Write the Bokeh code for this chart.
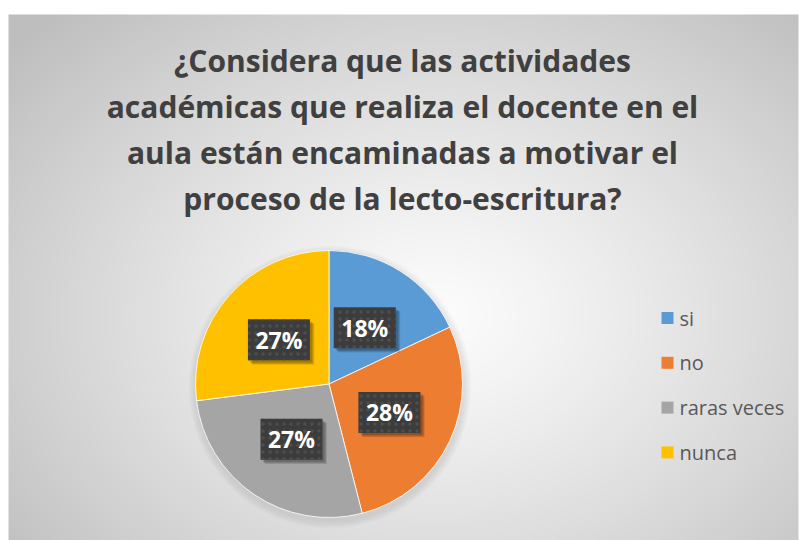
import numpy as np
from bokeh.plotting import figure
from bokeh.models import Range1d, ColumnDataSource
from bokeh.core.properties import value
from bokeh.embed import file_html
from bokeh.resources import INLINE

# ---- data ----
categories = ["si", "no", "raras veces", "nunca"]
percents = [18, 28, 27, 27]
colors = ["#5B9BD5", "#ED7D31", "#A5A5A5", "#FFC000"]
title_lines = [
    "¿Considera que las actividades",
    "académicas que realiza el docente en el",
    "aula están encaminadas a motivar el",
    "proceso de la lecto-escritura?",
]

W, H = 800, 540
p = figure(width=W, height=H, output_backend="svg", toolbar_location=None,
           x_range=Range1d(0, W), y_range=Range1d(0, H), min_border=0)
p.axis.visible = False
p.grid.visible = False
p.outline_line_color = None
p.background_fill_color = "white"
p.border_fill_color = "white"

def Y(py):
    return H - py

# ---- radial gradient background ----
bx0, bx1, by0, by1 = 8, 798, 0, H - 14
nx, ny = 395, 263
gx = np.linspace(bx0, bx1, nx)
gy = np.linspace(by0, by1, ny)
GX, GY = np.meshgrid(gx, gy)
cx, cy = 438, 225
d = np.sqrt(((GX - cx) / 560.0) ** 2 + ((GY - cy) / 420.0) ** 2)
d = np.clip(d, 0, 1)
g = (252 - 62 * d ** 1.2).astype(np.uint32)
img = (255 << 24) | (g << 16) | (g << 8) | g
p.image_rgba(image=[img.astype(np.uint32)], x=bx0, y=by0, dw=bx1 - bx0, dh=by1 - by0)

# ---- title ----
t_top = Y(60)
t_step = 46.0
for i, line in enumerate(title_lines):
    p.text(x=[402], y=[t_top - i * t_step], text=[line],
           text_font=value("Open Sans"), text_font_style="bold", text_font_size="30px",
           text_color="#404040", text_align="center", text_baseline="middle")

# ---- pie ----
pcx, pcy, pr = 328.5, Y(383.5), 133.5
vals = np.array(percents, dtype=float)
frac = vals / vals.sum()
cum = np.concatenate([[0], np.cumsum(frac)])
starts = np.pi / 2 - 2 * np.pi * cum[:-1]
ends = np.pi / 2 - 2 * np.pi * cum[1:]

# soft shadow
for k in range(8):
    p.circle(x=[pcx + 1], y=[pcy - 3], radius=pr + 8 - k, fill_color="#808080",
             fill_alpha=0.025, line_color=None)

src = ColumnDataSource(dict(start=starts, end=ends, color=colors, cat=categories))
p.wedge(x=pcx, y=pcy, radius=pr, start_angle="start", end_angle="end",
        direction="clock", fill_color="color", line_color="white", line_width=0.8,
        source=src)

# ---- data labels ----
mids = (starts + ends) / 2
lx = pcx + 0.5 * pr * np.cos(mids)
ly = pcy + 0.5 * pr * np.sin(mids)
labels = [f"{v:.0f}%" for v in percents]
bw, bh = 62, 41
for k in range(4):
    p.rect(x=lx + 2 + k * 0.8, y=ly - 2 - k * 0.8, width=bw, height=bh,
           fill_color="#000000", fill_alpha=0.10, line_color=None)
p.rect(x=lx, y=ly, width=bw, height=bh, fill_color="#3C3C3C", line_color=None,
       hatch_pattern="dot", hatch_color="#4E4E4E", hatch_scale=7, hatch_weight=2)
p.text(x=lx, y=ly, text=labels, text_font=value("Open Sans"), text_font_style="bold",
       text_font_size="23px", text_color="white", text_align="center",
       text_baseline="middle")

# ---- legend ----
leg_x = 667
leg_y0 = Y(317.5)
leg_step = 44.8
ly_leg = np.array([leg_y0 - i * leg_step for i in range(len(categories))])
p.rect(x=leg_x, y=ly_leg, width=12, height=12, fill_color=colors, line_color=None)
p.text(x=leg_x + 12, y=ly_leg, text=categories, text_font=value("Open Sans"),
       text_font_size="20px", text_color="#595959", text_align="left",
       text_baseline="middle")

open("out.html", "w").write(file_html(p, INLINE))
